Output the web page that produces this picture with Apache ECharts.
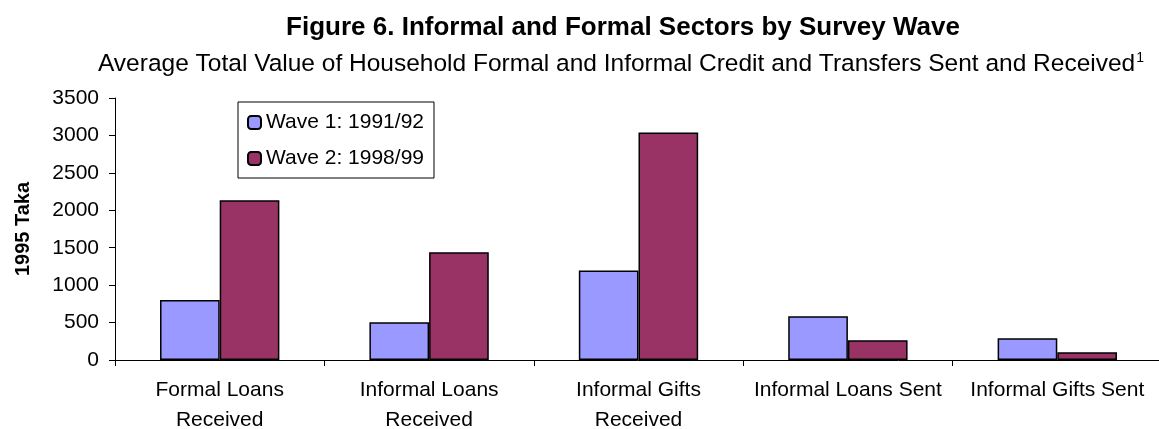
<!DOCTYPE html>
<html>
<head>
<meta charset="utf-8">
<script src="https://cdn.jsdelivr.net/npm/echarts@6/dist/echarts.min.js"></script>
<style>
html,body{margin:0;padding:0;background:#fff;}
#chart{width:1159px;height:429px;}
</style>
</head>
<body>
<div id="chart"></div>
<script>
const categories = ['Formal Loans\nReceived', 'Informal Loans\nReceived', 'Informal Gifts\nReceived', 'Informal Loans Sent', 'Informal Gifts Sent'];
const wave1Name = 'Wave 1: 1991/92';
const wave2Name = 'Wave 2: 1998/99';
const wave1 = [800, 505, 1195, 585, 290];
const wave2 = [2135, 1440, 3040, 265, 105];
const yTicks = { min: 0, max: 3500, interval: 500 };

const FONT = '"Liberation Sans", Arial, sans-serif';
const chart = echarts.init(document.getElementById('chart'), null, { renderer: 'canvas' });
chart.setOption({
  backgroundColor: '#fff',
  animation: false,
  textStyle: { fontFamily: FONT, color: '#000' },
  title: [{
    text: 'Figure 6. Informal and Formal Sectors by Survey Wave',
    left: 618, textAlign: 'center', top: 10,
    textStyle: { fontFamily: FONT, fontSize: 26, fontWeight: 'bold', color: '#000' }
  }, {
    text: '{a|Average Total Value of Household Formal and Informal Credit and Transfers Sent and Received}{s|1}',
    left: 616, textAlign: 'center', top: 46,
    textStyle: {
      fontFamily: FONT, color: '#000', fontWeight: 'normal',
      rich: {
        a: { fontFamily: FONT, fontSize: 24.5, fontWeight: 'normal', color: '#000', verticalAlign: 'bottom' },
        s: { fontFamily: FONT, fontSize: 14, fontWeight: 'normal', color: '#000', verticalAlign: 'top', padding: [0, 0, 12, 1] }
      }
    }
  }],
  legend: {
    orient: 'vertical', left: 238, top: 102,
    borderColor: '#000', borderWidth: 1,
    padding: [10, 10, 9, 9],
    itemWidth: 13, itemHeight: 13, itemGap: 15,
    textStyle: { fontFamily: FONT, fontSize: 21, color: '#000' },
    data: [wave1Name, wave2Name]
  },
  grid: { left: 115, right: -3, top: 98, bottom: 69, containLabel: false, outerBoundsMode: 'none' },
  xAxis: {
    type: 'category', data: categories,
    axisLine: { lineStyle: { color: '#000', width: 1 } },
    axisTick: { show: true, length: 6, lineStyle: { color: '#000' } },
    axisLabel: { fontFamily: FONT, fontSize: 21, color: '#000', margin: 15, lineHeight: 30, interval: 0 }
  },
  yAxis: {
    type: 'value', min: yTicks.min, max: yTicks.max, interval: yTicks.interval,
    name: '1995 Taka', nameLocation: 'middle', nameGap: 82, nameRotate: 90,
    nameTextStyle: { fontFamily: FONT, fontSize: 20, fontWeight: 'bold', color: '#000' },
    axisLine: { show: true, lineStyle: { color: '#000', width: 1 } },
    axisTick: { show: true, length: 6, lineStyle: { color: '#000' } },
    splitLine: { show: false },
    axisLabel: { fontFamily: FONT, fontSize: 21, color: '#000', margin: 16, formatter: function (v) { return String(v); } }
  },
  series: [{
    name: wave1Name, type: 'bar', data: wave1,
    barGap: '0%', barCategoryGap: '43%',
    itemStyle: { color: '#9999FF', borderColor: '#000', borderWidth: 1.5 }
  }, {
    name: wave2Name, type: 'bar', data: wave2,
    barGap: '0%', barCategoryGap: '43%',
    itemStyle: { color: '#993366', borderColor: '#000', borderWidth: 1.5 }
  }]
});
</script>
</body>
</html>
